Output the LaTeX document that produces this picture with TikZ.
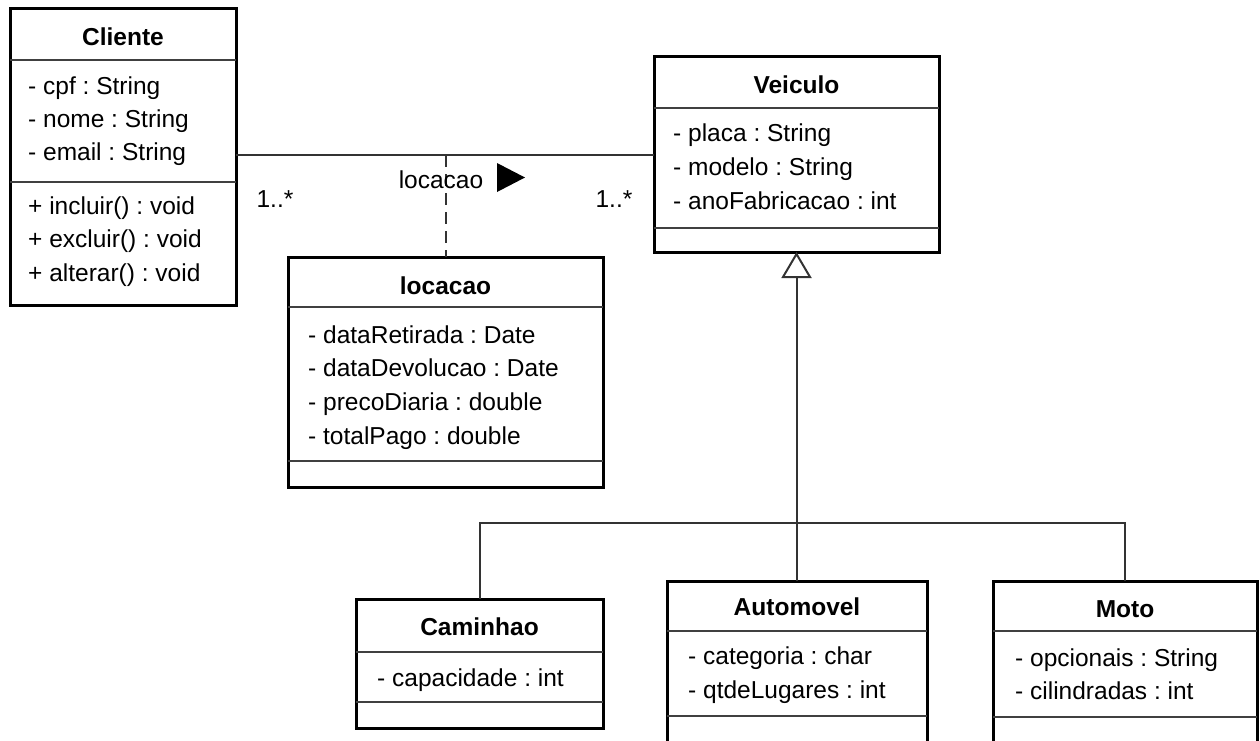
\documentclass[tikz,border=0pt]{standalone}
\usepackage{fontspec}
\setmainfont{Liberation Sans}
\usetikzlibrary{arrows.meta}
\frenchspacing
\begin{document}
\begin{tikzpicture}[x=1pt,y=-1pt,
  cls/.style={draw=black, line width=3pt, inner sep=0pt, outer sep=0pt},
  sep/.style={draw=black!75, line width=1.6pt},
  title/.style={font=\fontsize{24.5}{28}\selectfont\bfseries\frenchspacing, inner sep=0pt},
  attr/.style={font=\fontsize{24.5}{28}\selectfont\frenchspacing, inner sep=0pt, anchor=west, text height=0.72em, text depth=0.2em, yshift=-2pt},
  lbl/.style={font=\fontsize{24.5}{28}\selectfont\frenchspacing, inner sep=0pt},
  conn/.style={draw=black!80, line width=2pt},
]
\useasboundingbox (0,0) rectangle (1260,740);
\clip (0,0) rectangle (1260,740);

% ---------- Cliente ----------
\node[cls, minimum width=226pt, minimum height=297pt] (cliente) at (123,156.5) {};
\draw[sep] (cliente.west |- 0,60) -- (cliente.east |- 0,60);
\draw[sep] (cliente.west |- 0,182) -- (cliente.east |- 0,182);
\node[title] (clienteT) at (123,37) {Cliente};
\node[attr] (c1) at (28,90) {- cpf : String};
\node[attr] (c2) at (28,123) {- nome : String};
\node[attr] (c3) at (28,156) {- email : String};
\node[attr] (c4) at (28,210) {+ incluir() : void};
\node[attr] (c5) at (28,243) {+ excluir() : void};
\node[attr] (c6) at (28,277) {+ alterar() : void};

% ---------- Veiculo ----------
\node[cls, minimum width=285pt, minimum height=196pt] (veiculo) at (796.5,154) {};
\draw[sep] (veiculo.west |- 0,108) -- (veiculo.east |- 0,108);
\draw[sep] (veiculo.west |- 0,228) -- (veiculo.east |- 0,228);
\node[title] (veiculoT) at (796.5,85) {Veiculo};
\node[attr] (v1) at (673,137) {- placa : String};
\node[attr] (v2) at (673,171) {- modelo : String};
\node[attr] (v3) at (673,205) {- anoFabricacao : int};

% ---------- locacao ----------
\node[cls, minimum width=315pt, minimum height=230pt] (locacao) at (445.5,372) {};
\draw[sep] (locacao.west |- 0,307) -- (locacao.east |- 0,307);
\draw[sep] (locacao.west |- 0,461) -- (locacao.east |- 0,461);
\node[title] (locacaoT) at (445.5,286) {locacao};
\node[attr] (l1) at (308,339) {- dataRetirada : Date};
\node[attr] (l2) at (308,372) {- dataDevolucao : Date};
\node[attr] (l3) at (308,406) {- precoDiaria : double};
\node[attr] (l4) at (308,440) {- totalPago : double};

% ---------- Caminhao ----------
\node[cls, minimum width=247pt, minimum height=129pt] (caminhao) at (479.5,663.5) {};
\draw[sep] (caminhao.west |- 0,652) -- (caminhao.east |- 0,652);
\draw[sep] (caminhao.west |- 0,702) -- (caminhao.east |- 0,702);
\node[title] (caminhaoT) at (479.5,627) {Caminhao};
\node[attr] (k1) at (377,682) {- capacidade : int};

% ---------- Automovel ----------
\node[cls, minimum width=260pt, minimum height=199pt] (automovel) at (797,680.5) {};
\draw[sep] (automovel.west |- 0,631) -- (automovel.east |- 0,631);
\draw[sep] (automovel.west |- 0,716) -- (automovel.east |- 0,716);
\node[title] (automovelT) at (797,607) {Automovel};
\node[attr] (a1) at (688,660) {- categoria : char};
\node[attr] (a2) at (688,694) {- qtdeLugares : int};

% ---------- Moto ----------
\node[cls, minimum width=264pt, minimum height=199pt] (moto) at (1125,680.5) {};
\draw[sep] (moto.west |- 0,631) -- (moto.east |- 0,631);
\draw[sep] (moto.west |- 0,717) -- (moto.east |- 0,717);
\node[title] (motoT) at (1125,609) {Moto};
\node[attr] (m1) at (1015,662) {- opcionais : String};
\node[attr] (m2) at (1015,695) {- cilindradas : int};

% ---------- association ----------
\coordinate (aL) at (cliente.east |- 0,155);
\coordinate (aR) at (veiculo.west |- 0,155);
\draw[conn] (aL) -- (aR);
\coordinate (aM) at (locacao.north |- 0,155);
\draw[conn, dash pattern=on 12pt off 7pt] (aM) -- (locacao.north);
\node[lbl] (assocLbl) at (441,180) {locacao};
\fill (497,163) -- (525,177.5) -- (497,192) -- cycle;
\node[lbl] (multL) at (275,199) {1..*};
\node[lbl] (multR) at (614,199) {1..*};

% ---------- generalisation ----------
\coordinate (bus) at (veiculo.south |- 0,523);
\draw[conn, -{Triangle[open, length=26pt, width=30pt]}] (bus) -- (veiculo.south);
\draw[conn] (caminhao.north) |- (bus) -| (moto.north);
\draw[conn] (automovel.north) -- (automovel.north |- bus);
\end{tikzpicture}
\end{document}
